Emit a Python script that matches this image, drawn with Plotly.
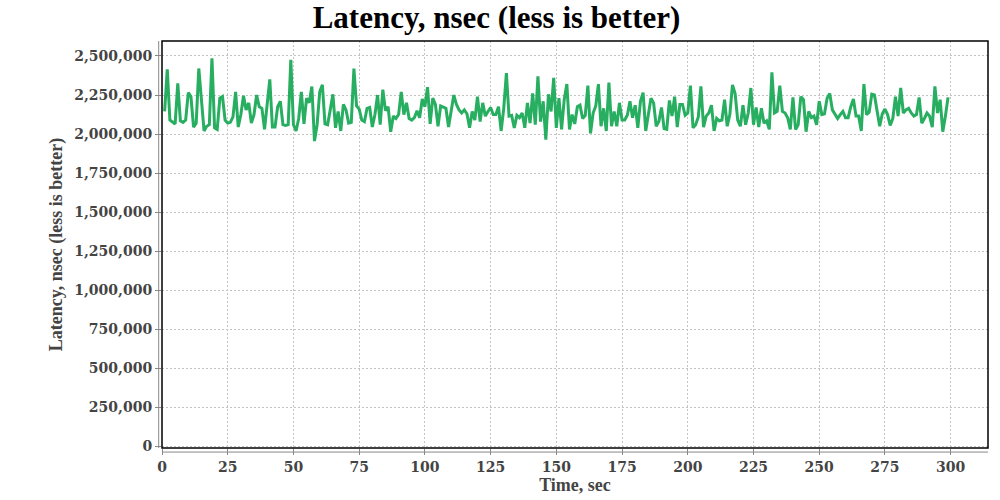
import plotly.graph_objects as go

# Time, sec
time_sec = list(range(1, 300))

# Latency, nsec (thousands)
latency_k = [
    2145, 2415, 2090, 2075, 2065, 2325, 2085, 2075, 2090, 2265,
    2240, 2045, 2070, 2420, 2230, 2020, 2050, 2060, 2485, 2040,
    2030, 2230, 2240, 2090, 2070, 2075, 2110, 2270, 2045, 2125,
    2245, 2155, 2200, 2070, 2125, 2250, 2175, 2165, 2030, 2190,
    2350, 2045, 2045, 2175, 2210, 2060, 2055, 2060, 2475, 2060,
    2020, 2100, 2270, 2065, 2230, 2200, 2305, 1955, 2060, 2270,
    2315, 2065, 2060, 2155, 2255, 2040, 2145, 2020, 2190, 2155,
    2070, 2075, 2420, 2180, 2160, 2090, 2080, 2165, 2170, 2045,
    2125, 2250, 2060, 2285, 2150, 2175, 2015, 2115, 2100, 2125,
    2270, 2125, 2200, 2100, 2090, 2105, 2150, 2105, 2225, 2175,
    2300, 2065, 2230, 2190, 2050, 2180, 2175, 2165, 2045, 2145,
    2250, 2190, 2155, 2135, 2155, 2130, 2040, 2145, 2090, 2240,
    2080, 2200, 2115, 2145, 2170, 2125, 2125, 2175, 2020, 2165,
    2390, 2115, 2120, 2040, 2120, 2105, 2135, 2040, 2200, 2070,
    2260, 2060, 2370, 2080, 2210, 1965, 2255, 2145, 2360, 2040,
    2230, 2030, 2220, 2320, 2030, 2125, 2065, 2175, 2185, 2100,
    2120, 2310, 2005, 2135, 2180, 2320, 2050, 2165, 2020, 2330,
    2050, 2145, 2050, 2200, 2090, 2090, 2120, 2210, 2105, 2185,
    2040, 2210, 2265, 2020, 2125, 2230, 2200, 2050, 2080, 2170,
    2035, 2030, 2215, 2115, 2240, 2045, 2190, 2190, 2120, 2135,
    2310, 2040, 2060, 2110, 2305, 2045, 2115, 2135, 2185, 2020,
    2100, 2085, 2090, 2220, 2050, 2125, 2315, 2260, 2090, 2050,
    2185, 2060, 2135, 2295, 2060, 2170, 2045, 2165, 2070, 2085,
    2030, 2395, 2135, 2145, 2310, 2145, 2135, 2105, 2030, 2235,
    2030, 2060, 2240, 2220, 2015, 2145, 2105, 2115, 2060, 2210,
    2125, 2130, 2230, 2260, 2155, 2130, 2100, 2125, 2145, 2105,
    2105, 2175, 2225, 2115, 2115, 2020, 2320, 2125, 2140, 2255,
    2250, 2150, 2050, 2130, 2160, 2125, 2055, 2100, 2240, 2115,
    2295, 2135, 2155, 2165, 2135, 2115, 2125, 2235, 2070, 2100,
    2135, 2115, 2045, 2305, 2135, 2220, 2015, 2115, 2235,
]
latency_nsec = [v * 1000 for v in latency_k]

title_text = "Latency, nsec (less is better)"
x_title = "Time, sec"
y_title = "Latency, nsec (less is better)"

tick_font = dict(family="DejaVu Serif", size=14, color="#444444", weight="bold")
axis_title_font = dict(family="Liberation Serif", size=18, color="#444444", weight="bold")

fig = go.Figure()
fig.add_trace(go.Scatter(
    x=time_sec, y=latency_nsec, mode="lines",
    line=dict(color="#27ae60", width=3),
    showlegend=False,
))

fig.update_layout(
    width=1000, height=500,
    margin=dict(l=162, r=12, t=41, b=52, autoexpand=False),
    paper_bgcolor="white", plot_bgcolor="white",
    title=dict(
        text=title_text, x=0.4965, xref="container", xanchor="center",
        y=0.988, yref="container", yanchor="top",
        font=dict(family="Liberation Serif", size=31, color="black", weight="bold"),
    ),
    xaxis=dict(
        range=[0, 314.2], tick0=0, dtick=25, automargin=False,
        showgrid=True, gridcolor="#c4c4c4", griddash="2px,2px", gridwidth=1,
        zeroline=False, showline=False,
        ticks="outside", ticklen=6, tickcolor="#888888",
        tickfont=tick_font,
        title=dict(text=x_title, font=axis_title_font, standoff=2),
    ),
    yaxis=dict(
        range=[-10000, 2596000], tick0=0, dtick=250000, tickformat=",d", automargin=False,
        showgrid=True, gridcolor="#c4c4c4", griddash="2px,2px", gridwidth=1,
        zeroline=False, showline=False,
        ticks="outside", ticklen=6, tickcolor="#888888",
        tickfont=tick_font,
        title=dict(text=y_title, font=axis_title_font, standoff=6),
    ),
    shapes=[
        dict(type="rect", xref="paper", yref="paper", x0=0, y0=0, x1=1, y1=1,
             line=dict(color="black", width=1.5), fillcolor="rgba(0,0,0,0)", layer="above"),
        dict(type="line", xref="paper", yref="paper", x0=-0.004, x1=-0.004, y0=0, y1=1,
             line=dict(color="#888888", width=1)),
        dict(type="line", xref="paper", yref="paper", x0=0, x1=1, y0=-0.01, y1=-0.01,
             line=dict(color="#888888", width=1)),
    ],
)

fig.write_html(
    "out.html",
    config={"displayModeBar": False},
    post_script="document.body.style.margin='0';document.body.style.padding='0';",
)
